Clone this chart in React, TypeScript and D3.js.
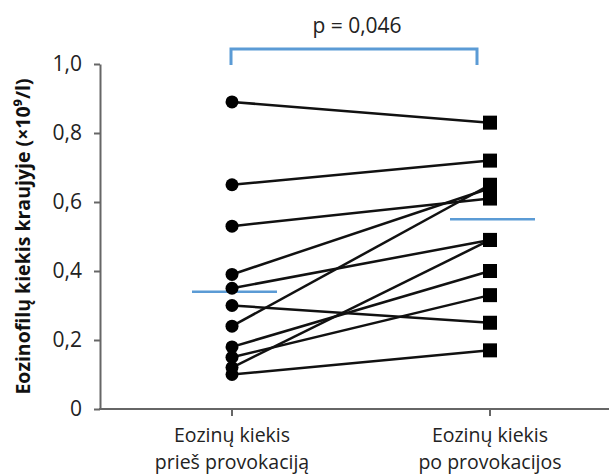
import React, { useRef, useEffect } from 'react';
import * as d3 from 'd3';

const CATEGORIES = ["before", "after"];
const CATEGORY_LABELS = [
    ["Eozinų kiekis", "prieš provokaciją"],
    ["Eozinų kiekis", "po provokacijos"]
];
const BEFORE = [0.89, 0.65, 0.53, 0.39, 0.35, 0.30, 0.24, 0.18, 0.15, 0.12, 0.10];
const AFTER = [0.83, 0.72, 0.61, 0.64, 0.49, 0.25, 0.65, 0.40, 0.33, 0.49, 0.17];
const MEANS = [0.34, 0.55];
const Y_TICKS = [0, 0.2, 0.4, 0.6, 0.8, 1.0];
const P_LABEL = "p = 0,046";
const Y_TITLE = "Eozinofilų kiekis kraujyje (×10⁹/l)";

const WIDTH = 609;
const HEIGHT = 476;
const FONT = "'Open Sans', 'Liberation Sans', sans-serif";

function App() {
    const svgRef = useRef(null);

    useEffect(() => {
        const svg = d3.select(svgRef.current);
        svg.selectAll("*").remove();

        const axisX = 100;
        const yScale = d3.scaleLinear().domain([0, 1]).range([409, 64]);
        const xScale = d3.scalePoint().domain(CATEGORIES).range([232, 490]);

        // y axis
        const yAxis = svg.append("g")
            .attr("transform", `translate(${axisX},0)`)
            .call(d3.axisLeft(yScale)
                .tickValues(Y_TICKS)
                .tickSize(6)
                .tickSizeOuter(0)
                .tickPadding(12)
                .tickFormat(d => d === 0 ? "0" : d.toFixed(1).replace(".", ",")));
        yAxis.select(".domain").attr("stroke", "#666").attr("stroke-width", 2);
        yAxis.selectAll(".tick line").attr("stroke", "#666").attr("stroke-width", 2);
        yAxis.selectAll(".tick text")
            .attr("font-family", FONT)
            .attr("font-size", 21)
            .attr("fill", "#222");

        // x axis line + ticks
        svg.append("line")
            .attr("x1", axisX - 1).attr("x2", WIDTH)
            .attr("y1", yScale(0)).attr("y2", yScale(0))
            .attr("stroke", "#666").attr("stroke-width", 2);

        CATEGORIES.forEach((c, i) => {
            const x = xScale(c);
            svg.append("line")
                .attr("x1", x).attr("x2", x)
                .attr("y1", yScale(0)).attr("y2", yScale(0) + 7)
                .attr("stroke", "#666").attr("stroke-width", 2);
            CATEGORY_LABELS[i].forEach((line, j) => {
                svg.append("text")
                    .attr("x", x)
                    .attr("y", 442 + j * 27)
                    .attr("text-anchor", "middle")
                    .attr("font-family", FONT)
                    .attr("font-size", 19.5)
                    .attr("fill", "#222")
                    .text(line);
            });
        });

        // paired lines
        BEFORE.forEach((b, i) => {
            svg.append("line")
                .attr("x1", xScale("before")).attr("y1", yScale(b))
                .attr("x2", xScale("after")).attr("y2", yScale(AFTER[i]))
                .attr("stroke", "#111").attr("stroke-width", 2.5);
        });

        // means
        MEANS.forEach((m, i) => {
            const x = xScale(CATEGORIES[i]);
            svg.append("line")
                .attr("x1", x - 40).attr("x2", x + 45)
                .attr("y1", yScale(m)).attr("y2", yScale(m))
                .attr("stroke", "#5b9bd5").attr("stroke-width", 2.5);
        });

        // markers
        svg.selectAll(".dot")
            .data(BEFORE)
            .enter().append("circle")
            .attr("cx", xScale("before"))
            .attr("cy", d => yScale(d))
            .attr("r", 6.5)
            .attr("fill", "#000");

        const sq = 14;
        svg.selectAll(".sq")
            .data(AFTER)
            .enter().append("rect")
            .attr("x", xScale("after") - sq / 2)
            .attr("y", d => yScale(d) - sq / 2)
            .attr("width", sq).attr("height", sq)
            .attr("fill", "#000");

        // significance bracket
        const bx0 = 231, bx1 = 477, by = 49;
        svg.append("path")
            .attr("d", `M${bx0},${by + 16}V${by}H${bx1}V${by + 16}`)
            .attr("fill", "none")
            .attr("stroke", "#5b9bd5")
            .attr("stroke-width", 3);
        svg.append("text")
            .attr("x", (bx0 + bx1) / 2 + 3)
            .attr("y", 33)
            .attr("text-anchor", "middle")
            .attr("font-family", FONT)
            .attr("font-size", 21)
            .attr("fill", "#222")
            .text(P_LABEL);

        // y title
        svg.append("text")
            .attr("transform", `translate(30,${yScale(0.5)}) rotate(-90)`)
            .attr("text-anchor", "middle")
            .attr("font-family", FONT)
            .attr("font-weight", "bold")
            .attr("font-size", 19.5)
            .attr("fill", "#111")
            .text(Y_TITLE);
    }, []);

    return (
        <svg
            ref={svgRef}
            width={WIDTH}
            height={HEIGHT}
            style={{ position: "absolute", left: 0, top: 0, background: "#fff" }}
        />
    );
}

export default App;
